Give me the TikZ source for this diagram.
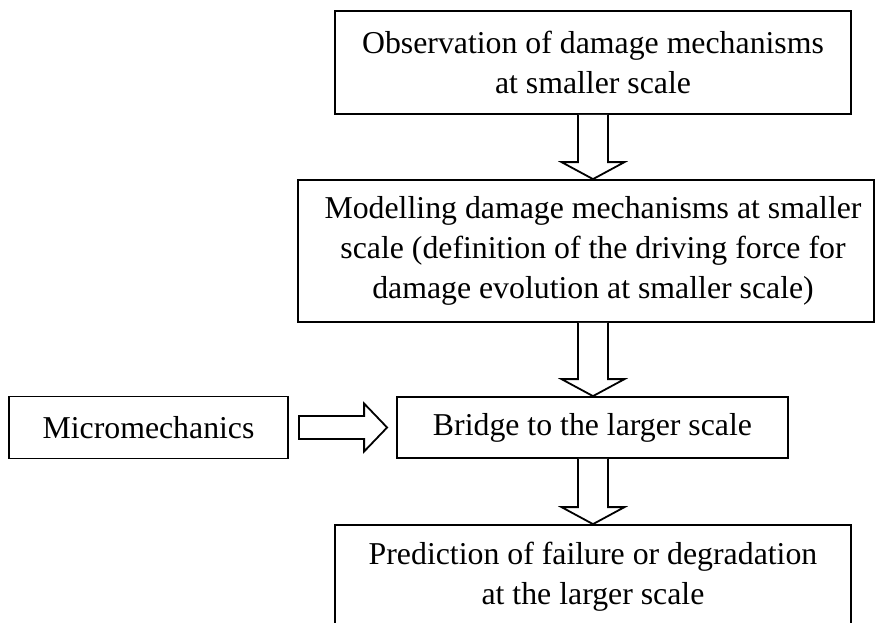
\documentclass[tikz,border=0pt]{standalone}
\usepackage{fontspec}
\setmainfont{Liberation Serif}
\usetikzlibrary{calc}
\newcommand{\hollowdown}[2]{%
\draw[hollow] ($(axis |- #1.south)+(-15,0)$)--($(axis |- #2.north)+(-15,-17)$)--++(-16.5,0)--(axis |- #2.north)--++(31.5,-17)--++(-16.5,0)--($(axis |- #1.south)+(15,0)$);}

\begin{document}
\begin{tikzpicture}[x=1pt,y=-1pt,line join=miter,line width=1.8pt,
  txt/.style={align=center,inner sep=0pt,font=\fontsize{31.8pt}{40pt}\selectfont},
  box/.style={draw,txt},
  hollow/.style={draw,fill=white}]
\path[use as bounding box,clip] (0,0) rectangle (875,622);
\coordinate (axis) at (593,0);
\node[box,minimum width=516pt,minimum height=103pt] (obs) at (593,62.5) {Observation of damage mechanisms\\at smaller scale};
\node[box,minimum width=576pt,minimum height=142pt] (model) at (586,251) {};
\node[txt] (modeltext) at (axis |- model) {Modelling damage mechanisms at smaller\\scale (definition of the driving force for\\damage evolution at smaller scale)};
\node[box,minimum width=279pt,minimum height=62pt] (micro) at (148.5,427.5) {Micromechanics};
\node[box,minimum width=391pt,minimum height=61pt] (bridge) at (592.5,427.5) {Bridge to the larger scale};
\node[box,minimum width=516pt,minimum height=103pt] (pred) at (593,576.5) {Prediction of failure or degradation\\at the larger scale};
\hollowdown{obs}{model}
\hollowdown{model}{bridge}
\hollowdown{bridge}{pred}
\draw[hollow] ($(micro.east)+(10,-11.5)$)--($(bridge.west)+(-32,-11.5)$)--++(0,-12.5)--($(bridge.west)+(-9,0)$)--++(-23,24)--++(0,-12.5)--($(bridge.west)+(-32,11.5)$)--($(micro.east)+(10,11.5)$)--cycle;
\end{tikzpicture}
\end{document}
